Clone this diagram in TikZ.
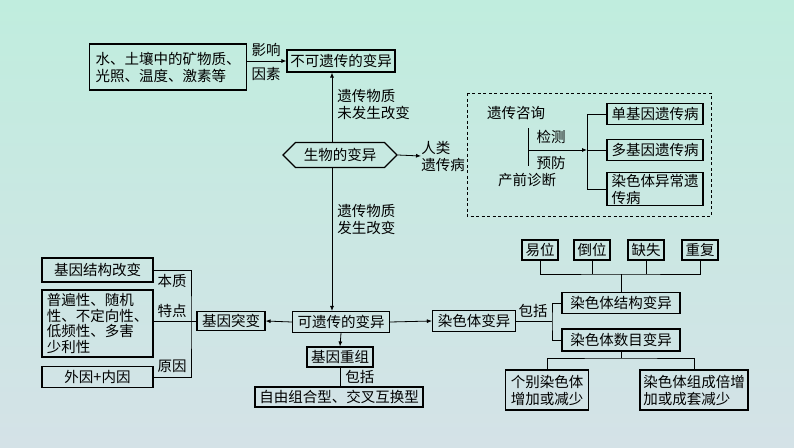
\documentclass[tikz,border=0pt]{standalone}
\usepackage{fontspec}
\newfontfamily\cjk{Noto Sans CJK SC}
\usepackage{tikz}
\usetikzlibrary{arrows.meta,shapes.symbols}

\begin{document}
\begin{tikzpicture}[x=1pt,y=-1pt,line width=0.8pt,
        font=\cjk\fontsize{14.5}{17}\selectfont,
        box/.style={draw,line width=1.1pt,inner sep=1pt,align=left,minimum height=#1},
        box/.default=21,
        lbl/.style={inner sep=0pt,align=left},
        arr/.style={-{Latex[length=5pt,width=4pt]}}]
        \shade[top color={rgb,255:red,192;green,237;blue,222},middle color={rgb,255:red,234;green,249;blue,245},
        bottom color={rgb,255:red,212;green,226;blue,231}] (0,0) rectangle (794,447);
        \useasboundingbox (0,0) rectangle (794,447);

        \node [box=46,minimum width=157] (env) at (168,67) {水、土壤中的矿物质、\\光照、温度、激素等};
        \node [box=22,minimum width=108] (fixed) at (341,61) {不可遗传的变异};
        \node [lbl] (infl) at (266,50) {影响};
        \node [lbl] (fact) at (266,74) {因素};
        \draw [arr] (env.east |- fixed.west) -- (fixed.west);

        \node [draw,line width=1.1pt,signal,signal to=east and west,minimum width=114,minimum height=25,inner sep=1pt] (bio) at (340,155) {生物的变异};
        \draw [arr] ([xshift=-8]bio.north) -- ([xshift=-9]fixed.south);
        \node [lbl,anchor=west] (nochg) at (337,105) {遗传物质\\未发生改变};
        \node [lbl,anchor=west] (human) at (421,156) {人类\\遗传病};
        \draw [arr] (bio.east) -- (human.west);

        % prevention
        \draw [dash pattern=on 3pt off 2.5pt] (467,93) rectangle (711,216);
        \node [lbl] (consult) at (516,113) {遗传咨询};
        \node [lbl] (prenatal) at (527,180) {产前诊断};
        \coordinate (split) at (528,150);
        \coordinate (brk) at (587,150);
        \draw ([yshift=-8]consult.south -| split) -- ([yshift=7]prenatal.north -| split);
        \draw [arr] (split) -- (brk);
        \node [lbl] (detect) at (551,137) {检测};
        \node [lbl] (prevent) at (551,163) {预防};
        \node [box,minimum width=96] (single) at (655,114) {单基因遗传病};
        \node [box,minimum width=96] (multi) at (655,150) {多基因遗传病};
        \node [box=33,minimum width=96] (abn) at (655,189) {染色体异常遗\\传病};
        \draw (single.west) -| (brk) |- (abn.west);
        \draw (brk) -- (multi.west);

        % heritable
        \node [box,minimum width=97] (herit) at (341,322) {可遗传的变异};
        \draw [arr] ([xshift=-8]bio.south) -- ([xshift=-9]herit.north);
        \node [lbl,anchor=west] (chg) at (337,220) {遗传物质\\发生改变};

        \node [box=19,minimum width=68] (mut) at (231,321) {基因突变};
        \draw [arr] (herit.west) -- (mut.east);
        \node [box=24,minimum width=111] (struct) at (97.5,270) {基因结构改变};
        \node [box=67,minimum width=111,font=\cjk\fontsize{14.5}{15.5}\selectfont] (trait) at (97.5,323.5) {普遍性、随机\\性、不定向性、\\低频性、多害\\少利性};
        \node [box,minimum width=111] (cause) at (97.5,377) {外因+内因};
        \coordinate (mbrk) at (191,321);
        \draw (struct.east) -| (mbrk) |- (cause.east);
        \draw (trait.east |- mut.west) -- (mut.west);
        \node [lbl] (essence) at (172,281) {本质};
        \node [lbl] (feature) at (172,311) {特点};
        \node [lbl] (reason) at (172,366) {原因};

        \node [box=20,minimum width=66] (recomb) at (340,357) {基因重组};
        \draw [arr] (herit.south) -- (recomb.north);
        \node [box=20,minimum width=168] (types) at (339,397) {自由组合型、交叉互换型};
        \draw (recomb.south) -- (recomb.south |- types.north);
        \node [lbl,anchor=west] (incl) at (345,377) {包括};

        % chromosome
        \node [box,minimum width=83] (chrom) at (474,321) {染色体变异};
        \draw [arr] (herit.east) -- (chrom.west);
        \node [lbl] (incl2) at (533,311) {包括};
        \coordinate (cbrk) at (552,321);
        \node [box,minimum width=118] (cstruct) at (621,303) {染色体结构变异};
        \node [box=22,minimum width=118] (cnum) at (621,340) {染色体数目变异};
        \draw (chrom.east) -- (cbrk);
        \draw (cstruct.west) -| (cbrk) |- (cnum.west);

        \node [box=20,minimum width=36] (t1) at (540,250) {易位};
        \node [box=20,minimum width=36] (t2) at (592,250) {倒位};
        \node [box=20,minimum width=36] (t3) at (646,250) {缺失};
        \node [box=20,minimum width=36] (t4) at (700,250) {重复};
        \coordinate (tjoin) at (621,274);
        \draw (t1.south) |- (tjoin) -| (t4.south);
        \draw (t2.south) -- (t2.south |- tjoin);
        \draw (t3.south) -- (t3.south |- tjoin);
        \draw (tjoin) -- (cstruct.north);

        \node [box=40,minimum width=83,align=center] (indiv) at (547,390) {个别染色体\\增加或减少};
        \node [box=40,minimum width=108] (whole) at (694,390) {染色体组成倍增\\加或成套减少};
        \coordinate (bjoin) at (621,358);
        \draw (cnum.south) -- (bjoin);
        \draw (indiv.north) |- (bjoin) -| (whole.north);
\end{tikzpicture}
\end{document}
